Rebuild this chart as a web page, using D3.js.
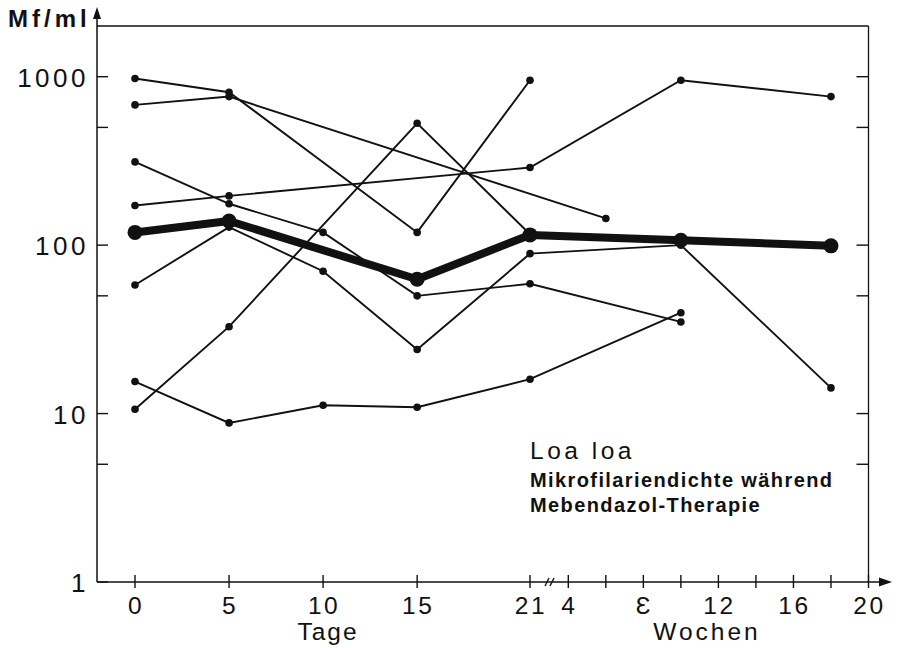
<!DOCTYPE html>
<html>
<head>
<meta charset="utf-8">
<script src="https://cdn.jsdelivr.net/npm/d3@7"></script>
<style>
  body { margin: 0; background: #fff; }
  text { font-family: "Liberation Sans", Arial, sans-serif; fill: #111; }
</style>
</head>
<body>
<svg id="chart" width="900" height="648"></svg>
<script>
// ticks on the axes
var dayTicks = [0, 5, 10, 15, 21];
var weekTicks = [4, 6, 8, 10, 12, 14, 16, 18, 20];
var weekLabels = {4: "4", 8: "\u0190", 12: "12", 16: "16", 20: "20"};
var yTicks = [1, 5, 10, 50, 100, 500, 1000];
var yLabels = [1, 10, 100, 1000];

// one row per patient: [unit, time, Mf/ml]  (d = Tage, w = Wochen)
var patient1 = [["d", 0, 975], ["d", 5, 809], ["d", 15, 119], ["d", 21, 953]];
var patient2 = [["d", 0, 680], ["d", 5, 762], ["w", 6, 144]];
var patient3 = [["d", 0, 312], ["d", 5, 176], ["d", 10, 119], ["d", 15, 50], ["d", 21, 59], ["w", 10, 35]];
var patient4 = [["d", 0, 172], ["d", 5, 196], ["d", 21, 289], ["w", 10, 953], ["w", 18, 762]];
var patient5 = [["d", 0, 58], ["d", 5, 128], ["d", 10, 70], ["d", 15, 24], ["d", 21, 89], ["w", 10, 100], ["w", 18, 14.2]];
var patient6 = [["d", 0, 10.6], ["d", 5, 32.8], ["d", 15, 529], ["d", 21, 116]];
var patient7 = [["d", 0, 15.5], ["d", 5, 8.8], ["d", 10, 11.2], ["d", 15, 10.9], ["d", 21, 16], ["w", 10, 39.7]];
var patients = [patient1, patient2, patient3, patient4, patient5, patient6, patient7];

// mean curve (thick line)
var meanCurve = [["d", 0, 119], ["d", 5, 139], ["d", 15, 62.7], ["d", 21, 115], ["w", 10, 107], ["w", 18, 99]];

var legendLines = ["Loa loa", "Mikrofilariendichte während", "Mebendazol-Therapie"];

var AX = 97, RX = 868.5, TY = 26, BY = 582;

var svg = d3.select("#chart");

var yScale = d3.scaleLog().domain([1, 1000]).range([BY, 76.7]);
var dayScale = d3.scaleLinear().domain([0, 21]).range([135, 530]);
var weekScale = d3.scaleLinear().domain([4, 20]).range([568.3, RX]);

function px(p) { return p[0] == "d" ? dayScale(p[1]) : weekScale(p[1]); }
function py(p) { return yScale(p[2]); }

var line = d3.line().x(px).y(py);

// frame
svg.append("line").attr("x1", AX).attr("y1", TY).attr("x2", RX).attr("y2", TY)
    .attr("stroke", "#111").attr("stroke-width", 1.3);
svg.append("line").attr("x1", RX).attr("y1", TY).attr("x2", RX).attr("y2", BY)
    .attr("stroke", "#111").attr("stroke-width", 1.3);
svg.append("line").attr("x1", AX).attr("y1", BY).attr("x2", AX).attr("y2", 16)
    .attr("stroke", "#111").attr("stroke-width", 1.5);
svg.append("line").attr("x1", AX).attr("y1", BY).attr("x2", 882).attr("y2", BY)
    .attr("stroke", "#111").attr("stroke-width", 1.5);
// arrow heads
svg.append("path").attr("d", "M" + AX + ",7 L" + (AX - 4) + ",19 L" + (AX + 4) + ",19 Z").attr("fill", "#111");
svg.append("path").attr("d", "M892," + BY + " L879," + (BY - 4.5) + " L879," + (BY + 4.5) + " Z").attr("fill", "#111");

// y ticks, left inside and right inside
yTicks.forEach(function (v) {
    var y = yScale(v);
    svg.append("line").attr("x1", AX).attr("x2", AX + 11).attr("y1", y).attr("y2", y)
        .attr("stroke", "#111").attr("stroke-width", 1.4);
    if (v > 1) {
        svg.append("line").attr("x1", RX - 12).attr("x2", RX).attr("y1", y).attr("y2", y)
            .attr("stroke", "#111").attr("stroke-width", 1.4);
    }
});
yLabels.forEach(function (v) {
    svg.append("text").attr("x", 89).attr("y", yScale(v) + 10)
        .attr("text-anchor", "end").attr("font-size", 26).attr("letter-spacing", 3.5)
        .text(v);
});

// x ticks
function xTick(x) {
    svg.append("line").attr("x1", x).attr("x2", x).attr("y1", BY - 7).attr("y2", BY + 6)
        .attr("stroke", "#111").attr("stroke-width", 1.4);
}
dayTicks.forEach(function (d) {
    xTick(dayScale(d));
    svg.append("text").attr("x", dayScale(d) + 1).attr("y", 614)
        .attr("text-anchor", "middle").attr("font-size", 24.5).attr("letter-spacing", 2.5)
        .text(d);
});
weekTicks.forEach(function (w) {
    xTick(weekScale(w));
    if (weekLabels[w]) {
        svg.append("text").attr("x", weekScale(w) + 1).attr("y", 614)
            .attr("text-anchor", "middle").attr("font-size", 24.5).attr("letter-spacing", 2.5)
            .text(weekLabels[w]);
    }
});
// axis break
[545, 550].forEach(function (x) {
    svg.append("line").attr("x1", x).attr("y1", BY + 4).attr("x2", x + 4).attr("y2", BY - 4)
        .attr("stroke", "#111").attr("stroke-width", 1.4);
});

svg.append("text").attr("x", 328).attr("y", 640).attr("text-anchor", "middle")
    .attr("font-size", 24.5).attr("letter-spacing", 2).text("Tage");
svg.append("text").attr("x", 707).attr("y", 640).attr("text-anchor", "middle")
    .attr("font-size", 24.5).attr("letter-spacing", 3).text("Wochen");
svg.append("text").attr("x", 8).attr("y", 27).attr("font-size", 24).attr("font-weight", "bold")
    .attr("letter-spacing", 4).text("Mf/ml");

// patients
patients.forEach(function (s) {
    svg.append("path").attr("d", line(s)).attr("fill", "none")
        .attr("stroke", "#111").attr("stroke-width", 1.9);
    svg.selectAll(null).data(s).enter().append("circle")
        .attr("cx", px).attr("cy", py).attr("r", 3.8).attr("fill", "#111");
});

// mean
svg.append("path").attr("d", line(meanCurve)).attr("fill", "none")
    .attr("stroke", "#111").attr("stroke-width", 8).attr("stroke-linejoin", "round");
svg.selectAll(null).data(meanCurve).enter().append("circle")
    .attr("cx", px).attr("cy", py).attr("r", 7.5).attr("fill", "#111");

// legend text
svg.append("text").attr("x", 530).attr("y", 459).attr("font-size", 24.5)
    .attr("letter-spacing", 3.5).text(legendLines[0]);
svg.append("text").attr("x", 530).attr("y", 487).attr("font-size", 20).attr("font-weight", "bold")
    .attr("letter-spacing", 1.4).text(legendLines[1]);
svg.append("text").attr("x", 530).attr("y", 512).attr("font-size", 20).attr("font-weight", "bold")
    .attr("letter-spacing", 1.4).text(legendLines[2]);
</script>
</body>
</html>
